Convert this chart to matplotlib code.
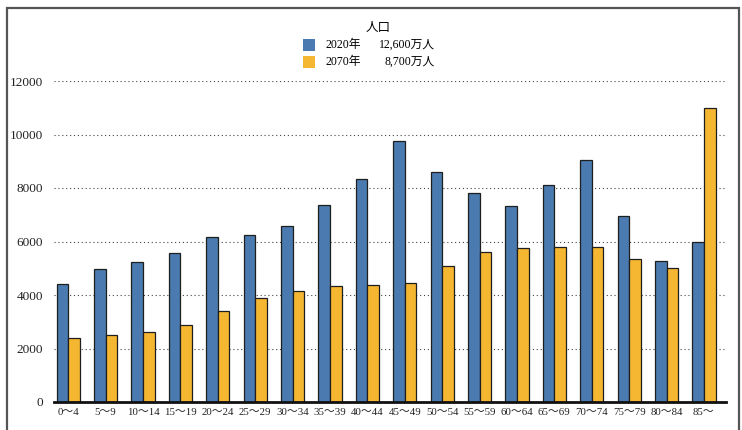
#Population by age group in Japan, 2020 vs 2070
import matplotlib.pyplot as plt
import matplotlib.patches as mpatches
import numpy as np

plt.rcParams['font.family'] = ['Liberation Serif', 'Noto Sans CJK JP']

age_groups = ["0〜4", "5〜9", "10〜14", "15〜19", "20〜24", "25〜29", "30〜34",
              "35〜39", "40〜44", "45〜49", "50〜54", "55〜59", "60〜64",
              "65〜69", "70〜74", "75〜79", "80〜84", "85〜"]
pop_2020 = [4410, 4970, 5230, 5570, 6180, 6240, 6580, 7360, 8330, 9740,
            8600, 7810, 7310, 8100, 9050, 6940, 5270, 6000]
pop_2070 = [2410, 2500, 2630, 2860, 3420, 3870, 4160, 4350, 4390, 4460,
            5080, 5600, 5740, 5780, 5810, 5360, 5020, 10990]
series_names = ["2020年", "2070年"]
series_totals = ["12,600万人", "8,700万人"]
legend_title = "人口"
y_ticks = [0, 2000, 4000, 6000, 8000, 10000, 12000]

blue = "#4a7aaf"
orange = "#f5b731"

W, H = 742, 430
fig = plt.figure(figsize=(W / 100, H / 100), dpi=100)
ax = fig.add_axes([54 / W, 28 / H, (726 - 54) / W, (402 - 81) / H])

x = np.arange(len(age_groups))
w = 0.31
ax.bar(x - w / 2, pop_2020, w, color=blue, edgecolor="#1e1e1e", linewidth=0.9, zorder=3)
ax.bar(x + w / 2, pop_2070, w, color=orange, edgecolor="#1e1e1e", linewidth=0.9, zorder=3)

ax.set_xlim(-0.38, len(age_groups) - 1 + 0.59)
ax.set_ylim(0, 12000)
ax.set_yticks(y_ticks)
ax.set_yticklabels([str(v) for v in y_ticks], fontsize=9.5)
ax.set_xticks(x)
ax.set_xticklabels(age_groups, fontsize=7.8)
ax.tick_params(axis="both", length=0, colors="#222222")
ax.tick_params(axis="y", pad=8)
ax.tick_params(axis="x", pad=4)

ax.yaxis.grid(True, linestyle=(0, (1, 2.5)), color="#444444", linewidth=0.8, zorder=0)
for s in ["top", "right", "left"]:
    ax.spines[s].set_visible(False)
ax.spines["bottom"].set_linewidth(2)
ax.spines["bottom"].set_color("#111111")
ax.spines["bottom"].set_zorder(4)

# outer frame (cut off at the bottom)
fig.patches.append(mpatches.Rectangle((7 / W, -0.1), (739 - 7) / W, (H - 8) / H + 0.1,
                                      transform=fig.transFigure, fill=False,
                                      edgecolor="#555555", linewidth=1.6))

# legend drawn by hand
fig.text(378 / W, 1 - 27 / H, legend_title, ha="center", va="center",
         fontsize=9, family=["Noto Sans CJK JP"])
for i, (name, total, col) in enumerate(zip(series_names, series_totals, [blue, orange])):
    yc = 45 + i * 17
    fig.patches.append(mpatches.Rectangle((303 / W, 1 - (yc + 6) / H), 12 / W, 12 / H,
                                          transform=fig.transFigure, facecolor=col,
                                          edgecolor="none"))
    fig.text(325 / W, 1 - yc / H, name, ha="left", va="center", fontsize=8.5)
    fig.text(435 / W, 1 - yc / H, total, ha="right", va="center", fontsize=8.5)

plt.savefig("out.png", dpi=100)
